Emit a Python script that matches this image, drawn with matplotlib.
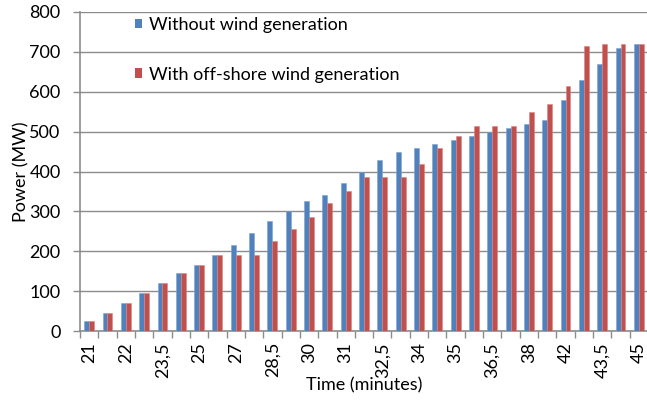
import matplotlib
matplotlib.use("Agg")
import matplotlib.pyplot as plt
from matplotlib.patches import Patch
import numpy as np

# ---- data ----
tick_labels = ["21", "", "22", "", "23,5", "", "25", "", "27", "", "28,5", "", "30", "",
               "31", "", "32,5", "", "34", "", "35", "", "36,5", "", "38", "", "42", "",
               "43,5", "", "45"]
without_wind = [25, 45, 70, 95, 120, 145, 165, 190, 215, 245, 275, 300, 325, 340, 370,
                400, 430, 450, 460, 470, 480, 490, 500, 510, 520, 530, 580, 630, 670, 710, 720]
with_offshore = [25, 45, 70, 95, 120, 145, 165, 190, 190, 190, 225, 255, 285, 320, 350,
                 385, 385, 385, 420, 460, 490, 515, 515, 515, 550, 570, 615, 715, 720, 720, 720]
series_names = ["Without wind generation", "With off-shore wind generation"]
colors = ["#4F81BD", "#C0504D"]

FONT = "Lato"
FS = 13

fig = plt.figure(figsize=(6.47, 4.04), dpi=100)
ax = fig.add_axes([80/647, 73/404, 568/647, 319/404])

x = np.arange(len(tick_labels))
w = 0.27
ax.bar(x - w/2, without_wind, width=w, color=colors[0], edgecolor="#7FA3D3", linewidth=0.4, zorder=3)
ax.bar(x + w/2, with_offshore, width=w, color=colors[1], edgecolor="#D98583", linewidth=0.4, zorder=3)

ax.set_xlim(-0.5, len(tick_labels) - 0.5)
ax.set_ylim(0, 800)
ax.set_yticks(np.arange(0, 801, 100))
ax.yaxis.grid(True, color="#8C8C8C", linewidth=1.0, zorder=0)
ax.set_axisbelow(True)

ax.set_xticks(x)
ax.set_xticklabels(tick_labels, rotation=90, fontfamily=FONT, fontsize=FS)
ax.tick_params(axis="x", which="major", length=0, pad=8)
ax.set_xticks(np.arange(-0.5, len(tick_labels)), minor=True)
ax.tick_params(axis="x", which="minor", length=5, color="#8C8C8C", width=1.0)
ax.tick_params(axis="y", length=5, color="#8C8C8C", width=1.0, pad=9)
for lab in ax.get_yticklabels():
    lab.set_fontfamily(FONT)
    lab.set_fontsize(FS)

for s in ["top", "right"]:
    ax.spines[s].set_visible(False)
for s in ["left", "bottom"]:
    ax.spines[s].set_color("#8C8C8C")
    ax.spines[s].set_linewidth(1.2)

ax.set_ylabel("Power (MW)", fontfamily=FONT, fontsize=FS, labelpad=0)
ax.set_xlabel("Time (minutes)", fontfamily=FONT, fontsize=FS, labelpad=0)

handles = [Patch(facecolor=c, edgecolor="none") for c in colors]
leg = ax.legend(handles, series_names, loc="upper left", bbox_to_anchor=(0.097, 0.984),
                frameon=False, prop={"family": FONT, "size": FS},
                handlelength=0.4, handleheight=0.4, handletextpad=0.35,
                labelspacing=1.85, borderaxespad=0.0, borderpad=0.0)

fig.savefig("out.png", dpi=100)
